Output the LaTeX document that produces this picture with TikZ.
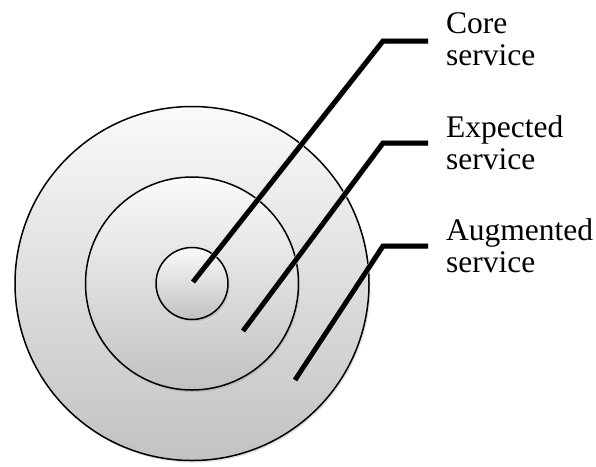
\documentclass[tikz,border=0pt]{standalone}
\usepackage{fontspec}
\setmainfont{Liberation Serif}
\usetikzlibrary{shadows}
\begin{document}
\begin{tikzpicture}[x=1pt,y=-1pt,
  ring/.style={circle, draw=black, line width=1.5pt, top color=black!2, bottom color=black!24, inner sep=0pt, outer sep=0pt,
    drop shadow={opacity=0.25, shadow xshift=1.5pt, shadow yshift=-2pt}},
  leader/.style={line width=5pt, line join=miter, shorten >=18pt},
  leadershadow/.style={line width=6pt, black!12, line join=miter, shorten >=18pt},
  lbltext/.style={anchor=base west, inner sep=0pt, align=left, font=\fontsize{31.5}{32.5}\selectfont}]
\useasboundingbox (0,0) rectangle (596,466);
\node[ring, minimum size=354pt] (aug) at (192,283.5) {};
\node[ring, minimum size=213pt] (exp) at (192,283.5) {};
\node[ring, minimum size=72pt] (core) at (192,283.5) {};
\node[lbltext] (tcore) at (446,65.5) {Core\\service};
\node[lbltext] (texp) at (446,169.5) {Expected\\service};
\node[lbltext] (taug) at (446,272.5) {Augmented\\service};
\coordinate (c1) at (193,282);
\coordinate (b1) at (383,41);
\coordinate (c2) at (243,331);
\coordinate (b2) at (383,143);
\coordinate (c3) at (295,380);
\coordinate (b3) at (383,246);
\begin{scope}[shift={(1.5,2.5)}]
\draw[leadershadow] (c1) -- (b1) -- (b1 -| tcore.west);
\draw[leadershadow] (c2) -- (b2) -- (b2 -| texp.west);
\draw[leadershadow] (c3) -- (b3) -- (b3 -| taug.west);
\end{scope}
\draw[leader] (c1) -- (b1) -- (b1 -| tcore.west);
\draw[leader] (c2) -- (b2) -- (b2 -| texp.west);
\draw[leader] (c3) -- (b3) -- (b3 -| taug.west);
\end{tikzpicture}
\end{document}
